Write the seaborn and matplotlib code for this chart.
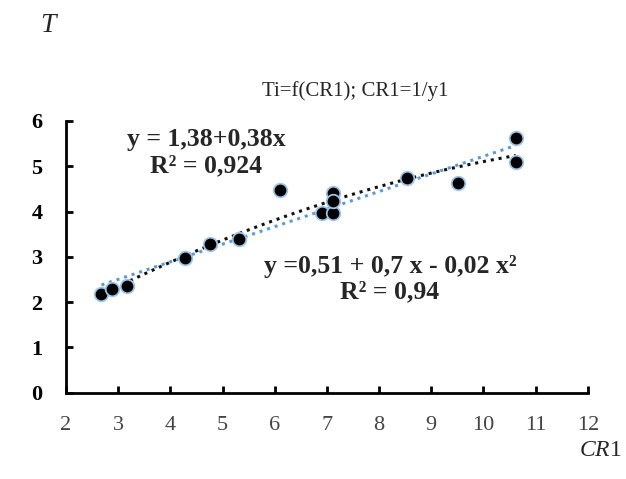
import numpy as np
import pandas as pd
import matplotlib
matplotlib.use('Agg')
import matplotlib.pyplot as plt
import seaborn as sns

sns.set_theme(style='ticks')
plt.rcParams['font.family'] = ['Liberation Serif', 'DejaVu Serif']
plt.rcParams['mathtext.fontset'] = 'custom'
plt.rcParams['mathtext.rm'] = 'Liberation Serif'
plt.rcParams['mathtext.it'] = 'Liberation Serif:italic'

# values
cr1 = [2.68, 2.88, 3.16, 4.28, 4.76, 5.32, 6.11, 6.90, 7.11, 7.11, 7.11, 8.54, 9.52, 10.62, 10.62]
ti = [2.18, 2.29, 2.35, 2.97, 3.28, 3.39, 4.47, 3.97, 3.97, 4.41, 4.24, 4.75, 4.62, 5.62, 5.10]
x_ticks = list(range(2, 13))
y_ticks = list(range(0, 7))

title = 'Ti=f(CR1); CR1=1/y1'
lin_label = 'y = 1,38+0,38x\nR² = 0,924'
quad_label = 'y =0,51 + 0,7 x - 0,02 x²\nR² = 0,94'


def main() -> None:

    df = pd.DataFrame({'CR1': cr1, 'Ti': ti})

    fig = plt.figure(figsize=(6.26, 4.79), dpi=100)
    ax = fig.add_axes([0.1054, 0.1802, 0.8336, 0.5672])

    # trend lines (linear, quadratic) fitted to the points
    xs = np.linspace(df.CR1.min(), df.CR1.max(), 100)
    lin = np.polyval(np.polyfit(df.CR1, df.Ti, 1), xs)
    quad = np.polyval(np.polyfit(df.CR1, df.Ti, 2), xs)
    sns.lineplot(x=xs, y=lin, ax=ax, color='#5b9bd5', lw=2.2, linestyle=(0, (1, 1.6)))
    sns.lineplot(x=xs, y=quad, ax=ax, color='#111111', lw=2.2, linestyle=(0, (1, 1.6)))

    sns.scatterplot(data=df, x='CR1', y='Ti', ax=ax, color='black', s=95,
                    edgecolor='#9dc3e6', linewidth=1.3, zorder=5)

    ax.set_xlim(2, 12)
    ax.set_ylim(0, 6)
    ax.set_xticks(x_ticks)
    ax.set_yticks(y_ticks)
    ax.set_xticklabels([str(t) for t in x_ticks], fontsize=16, color='#444444')
    ax.set_yticklabels([str(t) for t in y_ticks], fontsize=16, fontweight='bold')
    ax.tick_params(axis='both', direction='in', length=5, width=2, colors='black')
    ax.tick_params(axis='x', pad=17, labelcolor='#444444')
    ax.tick_params(axis='y', pad=17)
    for s in ['left', 'bottom']:
        ax.spines[s].set_linewidth(2)
        ax.spines[s].set_color('black')
    sns.despine(ax=ax)
    ax.set_xlabel('')
    ax.set_ylabel('')

    fig.text(355 / 626, 1 - 91 / 479, title, fontsize=15, ha='center', va='center')

    ax.text(0.268, 0.884, lin_label, transform=ax.transAxes, ha='center', va='center',
            fontsize=18.5, fontweight='bold', linespacing=1.15)
    ax.text(0.621, 0.418, quad_label, transform=ax.transAxes, ha='center', va='center',
            fontsize=18.5, fontweight='bold', linespacing=1.15)

    fig.text(50 / 626, 1 - 26 / 479, r'$\it{T}$', fontsize=20, ha='center', va='center')
    fig.text(600 / 626, 1 - 451 / 479, r'$\it{CR}$1', fontsize=17, ha='center', va='center')

    fig.savefig('out.png', dpi=100)


if __name__ == '__main__': main()
